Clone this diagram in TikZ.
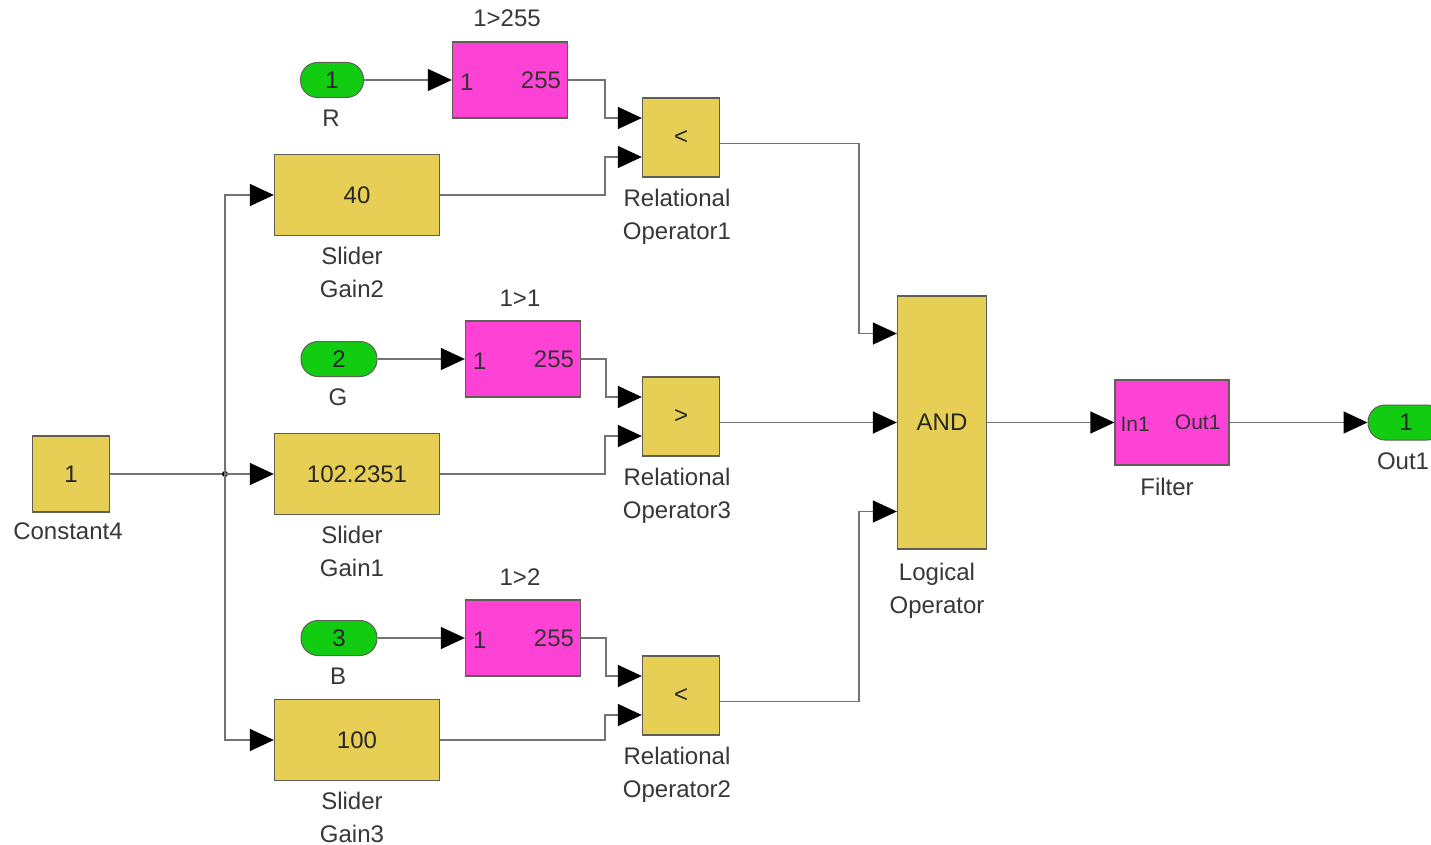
\documentclass[tikz,border=0pt]{standalone}
\usepackage{fontspec}
\setmainfont{Liberation Sans}
\usetikzlibrary{arrows.meta, positioning}
\definecolor{blockyellow}{RGB}{231,207,86}
\definecolor{blockpink}{RGB}{255,66,214}
\definecolor{portgreen}{RGB}{18,204,18}
\definecolor{wiregray}{RGB}{115,115,115}
\definecolor{edgegray}{RGB}{95,95,85}
\definecolor{textgray}{RGB}{55,55,55}

\tikzset{
  block/.style={rectangle, draw=edgegray, line width=1.3pt, fill=blockyellow, inner sep=0pt, text=black!85},
  relop/.style={block, minimum width=77pt, minimum height=79pt},
  gainbox/.style={block, minimum width=165pt, minimum height=81pt},
  subsys/.style={rectangle, draw=edgegray, line width=1.3pt, fill=blockpink, inner sep=0pt, minimum width=115pt, minimum height=76pt},
  port/.style={rectangle, rounded corners=17pt, draw=edgegray, line width=1pt, fill=portgreen, minimum height=35pt, inner sep=0pt, text=black!85},
  line/.style={draw=wiregray, line width=1.4pt},
  wire/.style={line, -{Triangle[length=24pt, width=22pt, color=black]}},
  blocklabel/.style={text=textgray, align=center, inner sep=0pt},
}

\begin{document}
\begin{tikzpicture}[x=1pt, y=-1pt, font=\fontsize{24}{33}\selectfont]
\useasboundingbox[fill=white] (0,0) rectangle (1431,845);

% constant and slider gains
\node[block, minimum width=77pt, minimum height=76pt] (const) at (71,474) {1};
\node[blocklabel, below=10pt of const, xshift=-3pt] (constlbl) {Constant4};
\coordinate (split) at (225,474);

\node[gainbox] (gain2) at (357,195) {40};
\node[gainbox] (gain1) at (357,474) {102.2351};
\node[gainbox] (gain3) at (357,740) {100};
\node[blocklabel, below=11pt of gain2, xshift=-5pt] (gain2lbl) {Slider\\Gain2};
\node[blocklabel, below=11pt of gain1, xshift=-5pt] (gain1lbl) {Slider\\Gain1};
\node[blocklabel, below=11pt of gain3, xshift=-5pt] (gain3lbl) {Slider\\Gain3};

% colour inputs
\node[port, minimum width=63pt] (inR) at (332,80) {1};
\node[port, minimum width=76pt] (inG) at (339,359) {2};
\node[port, minimum width=76pt] (inB) at (339,638) {3};
\node[blocklabel, below=12pt of inR, xshift=-1pt] (inRlbl) {R};
\node[blocklabel, below=12pt of inG, xshift=-1pt] (inGlbl) {G};
\node[blocklabel, below=12pt of inB, xshift=-1pt] (inBlbl) {B};

% mapping subsystems
\node[subsys] (rmap) at (510,80) {};
\node[subsys] (gmap) at (523,359) {};
\node[subsys] (bmap) at (523,638) {};
\foreach \m/\t in {rmap/1>255, gmap/1>1, bmap/1>2} {
  \node[blocklabel, above=14pt of \m, xshift=-3pt] (\m title) {\t};
  \node[anchor=west, inner sep=0pt, text=black!80] (\m in) at ([xshift=8pt, yshift=-2pt]\m.west) {1};
  \node[anchor=east, inner sep=0pt, text=black!80] (\m out) at ([xshift=-7pt]\m.east) {255};
}

% relational operators
\node[relop] (rel1) at (681,137.5) {<};
\node[relop] (rel3) at (681,416.5) {>};
\node[relop] (rel2) at (681,695.5) {<};
\node[blocklabel, below=11pt of rel1, xshift=-4pt] (rel1lbl) {Relational\\Operator1};
\node[blocklabel, below=11pt of rel3, xshift=-4pt] (rel3lbl) {Relational\\Operator3};
\node[blocklabel, below=11pt of rel2, xshift=-4pt] (rel2lbl) {Relational\\Operator2};

% logic, filter, output
\node[block, minimum width=89pt, minimum height=253pt] (andop) at (942,422.5) {AND};
\node[blocklabel, below=13pt of andop, xshift=-5pt] (andlbl) {Logical\\Operator};
\node[subsys, minimum width=114pt, minimum height=85pt] (filter) at (1172,422.5) {};
\node[anchor=west, inner sep=0pt, text=black!80, font=\fontsize{21}{24}\selectfont] (filterin) at ([xshift=6pt, yshift=-2pt]filter.west) {In1};
\node[anchor=east, inner sep=0pt, text=black!80, font=\fontsize{21}{24}\selectfont] (filterout) at ([xshift=-9pt]filter.east) {Out1};
\node[blocklabel, below=12pt of filter, xshift=-5pt] (filterlbl) {Filter};
\node[port, minimum width=76pt] (out) at (1406,422.5) {1};
\node[blocklabel, below=12pt of out, xshift=-3pt] (outlbl) {Out1};

% connections
\draw[line] (const.east) -- (split);
\fill[black] (split) circle (3pt);
\draw[wire] (split) |- (gain2.west);
\draw[wire] (split) -- (gain1.west);
\draw[wire] (split) |- (gain3.west);

\draw[wire] (inR.east) -- (rmap.west);
\draw[wire] (inG.east) -- (gmap.west);
\draw[wire] (inB.east) -- (bmap.west);

\draw[wire] (rmap.east) -- ++(37,0) |- ([yshift=19.5pt]rel1.west);
\draw[wire] (gain2.east) -- ++(165,0) |- ([yshift=-19.5pt]rel1.west);
\draw[wire] (gmap.east) -- ++(25,0) |- ([yshift=19.5pt]rel3.west);
\draw[wire] (gain1.east) -- ++(165,0) |- ([yshift=-19.5pt]rel3.west);
\draw[wire] (bmap.east) -- ++(25,0) |- ([yshift=19.5pt]rel2.west);
\draw[wire] (gain3.east) -- ++(165,0) |- ([yshift=-19.5pt]rel2.west);

\draw[wire] ([yshift=-6pt]rel1.east) -- ++(139,0) |- ([yshift=89pt]andop.west);
\draw[wire] ([yshift=-6pt]rel3.east) -- (andop.west);
\draw[wire] ([yshift=-6pt]rel2.east) -- ++(139,0) |- ([yshift=-89pt]andop.west);

\draw[wire] (andop.east) -- (filter.west);
\draw[wire] (filter.east) -- (out.west);
\end{tikzpicture}
\end{document}
